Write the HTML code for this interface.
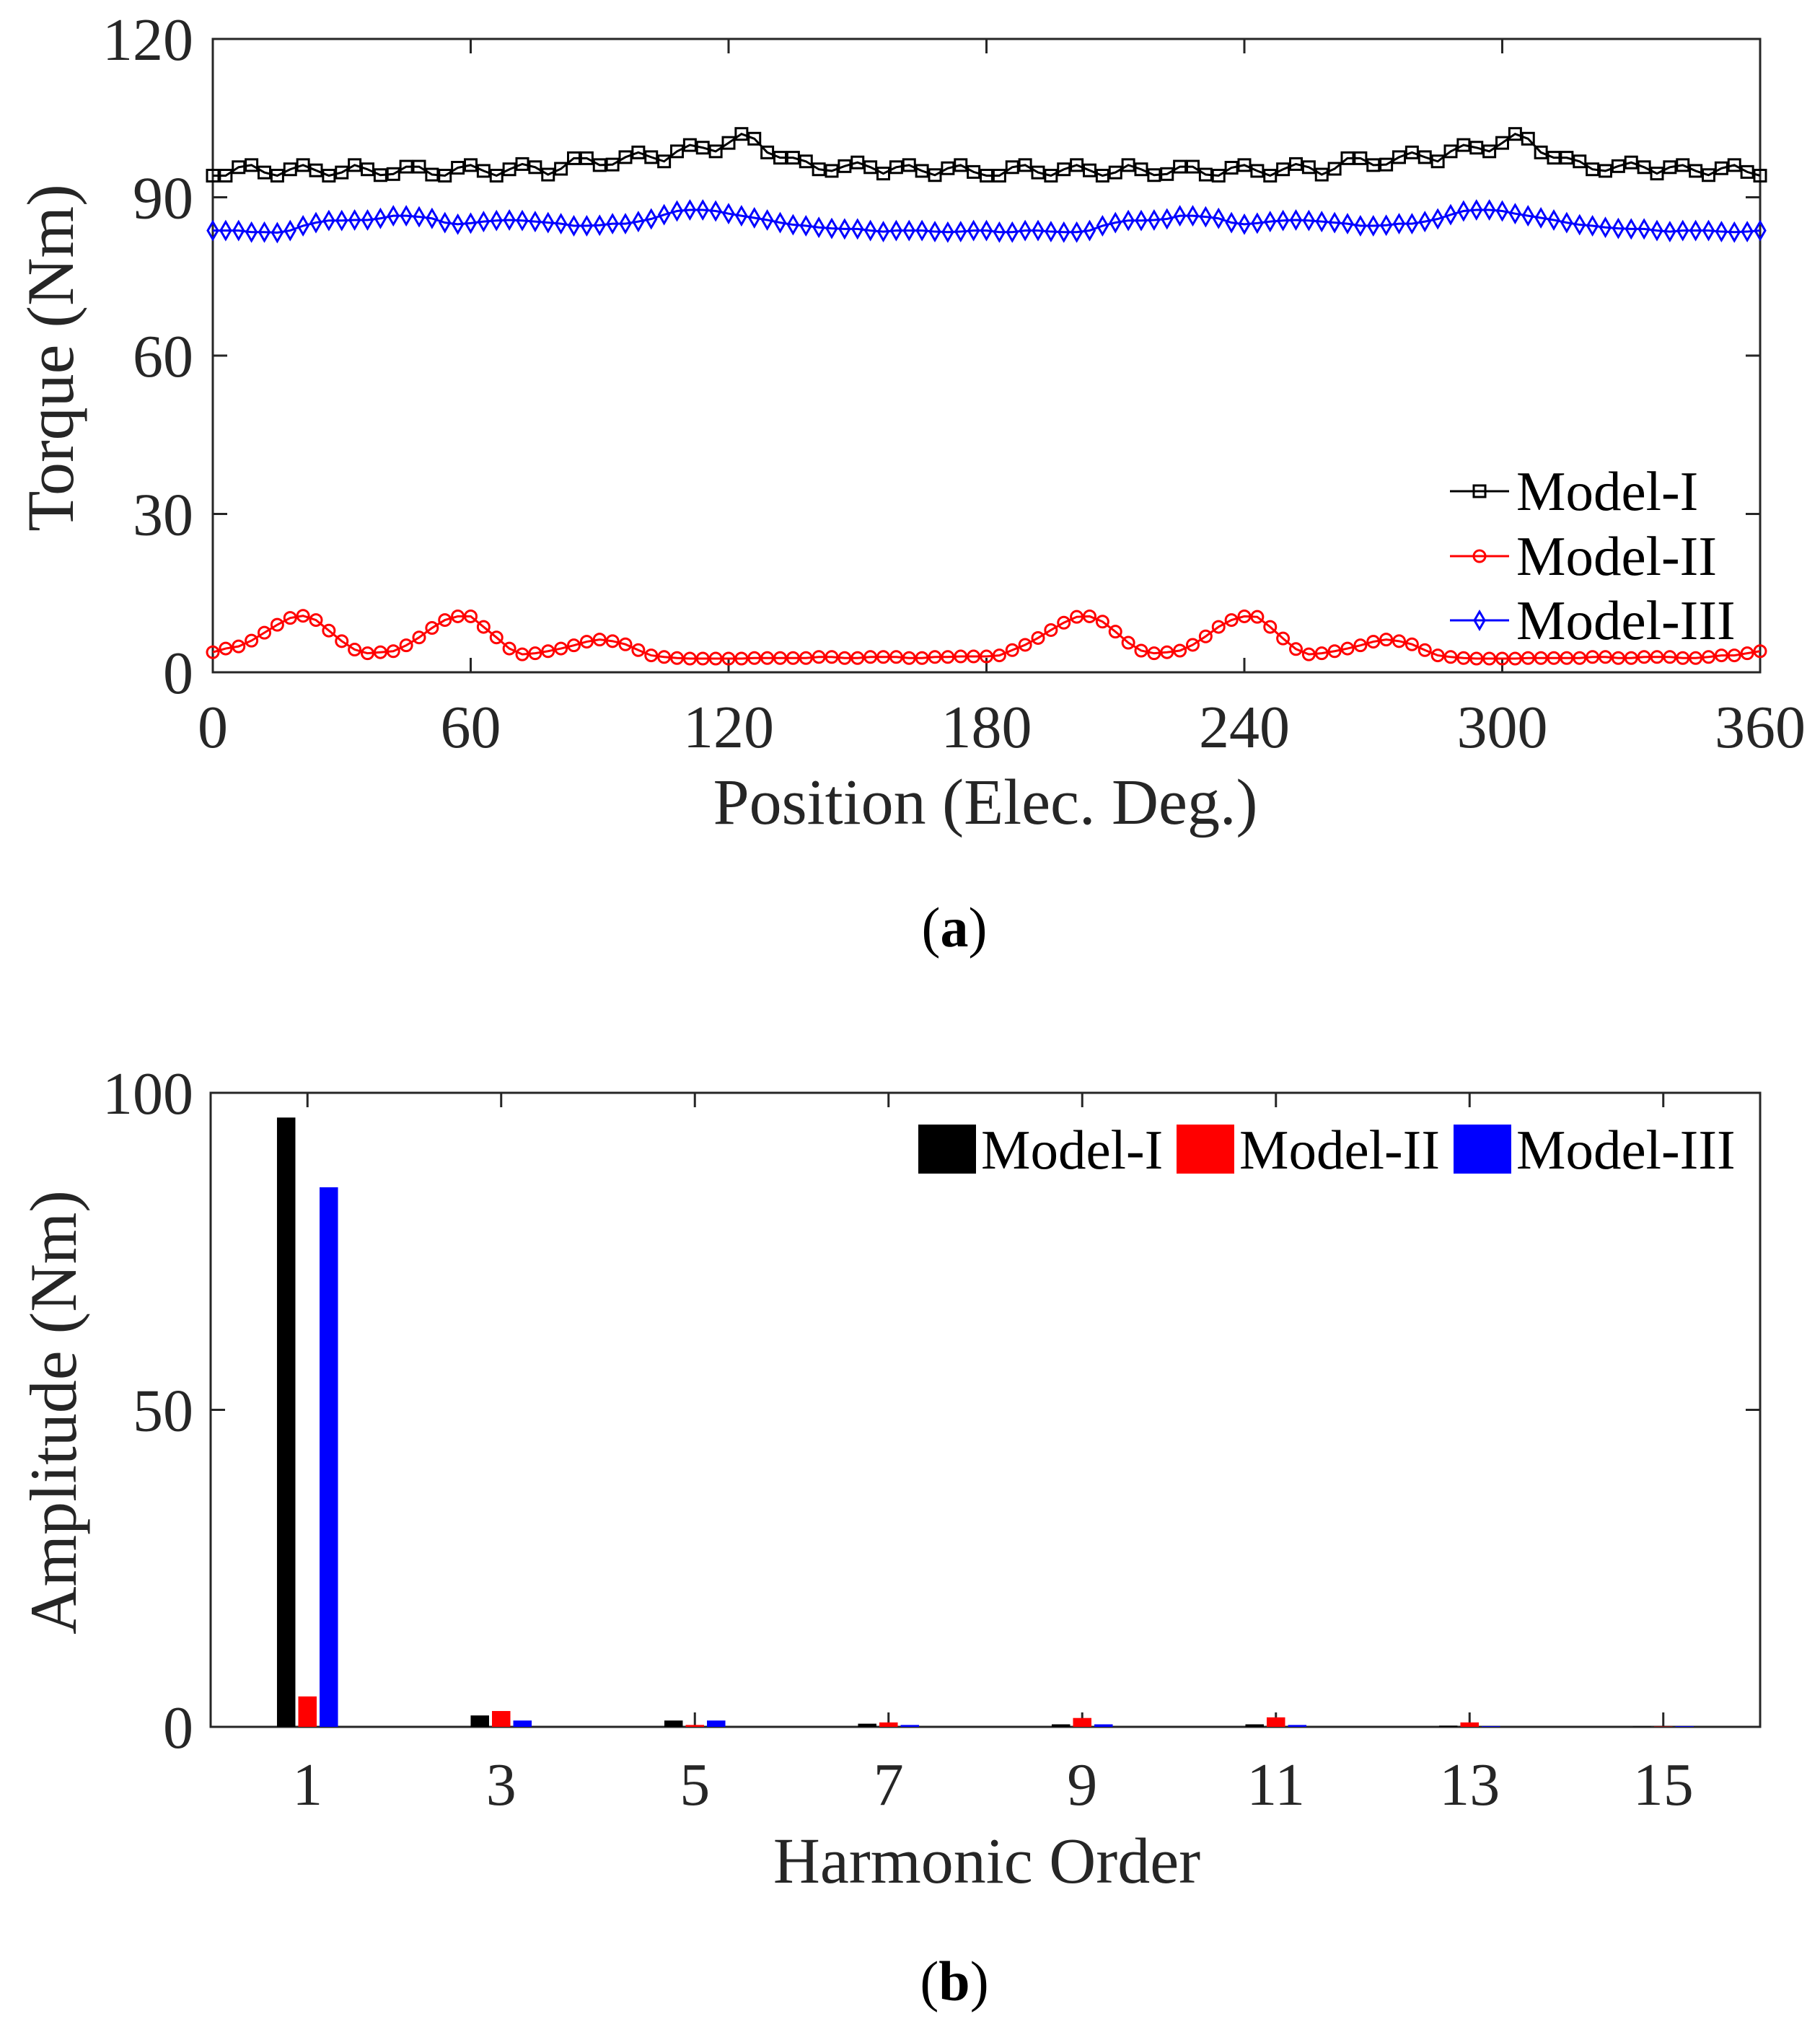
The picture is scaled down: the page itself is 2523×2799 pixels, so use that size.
<!DOCTYPE html>
<html><head><meta charset="utf-8"><style>
html,body{margin:0;padding:0;background:#fff;}
svg{display:block;font-family:"Liberation Serif",serif;}
</style></head><body>
<svg id="fig" width="2523" height="2799" viewBox="0 0 2523 2799" xmlns="http://www.w3.org/2000/svg">
<rect x="0" y="0" width="2523" height="2799" fill="#fff"/>
<g id="chartA"></g>
<g id="chartB"></g>
<text x="80" y="496" font-size="92" fill="#262626" text-anchor="middle" dominant-baseline="middle" transform="rotate(-90 80 496)">Torque (Nm)</text>
<text x="1366" y="1142" font-size="90" fill="#262626" text-anchor="middle">Position (Elec. Deg.)</text>
<text x="1323" y="1312" font-size="78" fill="#000" text-anchor="middle">(<tspan font-weight="bold">a</tspan>)</text>
<text x="84" y="1958" font-size="92" fill="#262626" text-anchor="middle" dominant-baseline="middle" transform="rotate(-90 84 1958)">Amplitude (Nm)</text>
<text x="1368" y="2610" font-size="90" fill="#262626" text-anchor="middle">Harmonic Order</text>
<text x="1323" y="2773" font-size="78" fill="#000" text-anchor="middle">(<tspan font-weight="bold">b</tspan>)</text>
</svg>
<script>
// ---- Chart (a) data ----
const posStep = 3;
const xTicksA = [0, 60, 120, 180, 240, 300, 360];
const yTicksA = [0, 30, 60, 90, 120];
const model1 = [94.1,94.1,95.7,96.1,94.7,94.1,95.3,96.1,95.1,94.1,94.7,96.1,95.3,94.2,94.4,95.8,95.8,94.3,94.1,95.6,96.1,95.0,94.1,95.3,96.3,95.7,94.3,95.4,97.4,97.4,96.1,96.2,97.6,98.5,97.6,96.8,98.7,99.9,99.4,98.7,100.3,102.0,101.1,98.5,97.5,97.5,96.8,95.3,95.0,95.9,96.6,95.7,94.5,95.7,96.1,95.0,94.2,95.5,96.1,94.8,94.1,
94.1,95.7,96.1,94.7,94.1,95.3,96.1,95.1,94.1,94.7,96.1,95.3,94.2,94.4,95.8,95.8,94.3,94.1,95.6,96.1,95.0,94.1,95.3,96.3,95.7,94.3,95.4,97.4,97.4,96.1,96.2,97.6,98.5,97.6,96.8,98.7,99.9,99.4,98.7,100.3,102.0,101.1,98.5,97.5,97.5,96.8,95.3,95.0,95.9,96.6,95.7,94.5,95.7,96.1,95.0,94.2,95.5,96.1,94.8,94.1];
const model2 = [3.8,4.5,4.9,6.0,7.5,9.0,10.3,10.7,9.9,7.9,5.9,4.3,3.6,3.8,4.0,5.1,6.6,8.4,9.9,10.6,10.6,8.6,6.6,4.5,3.4,3.6,4.0,4.5,5.1,5.8,6.2,5.9,5.3,4.2,3.2,2.9,2.7,2.6,2.6,2.6,2.6,2.6,2.7,2.7,2.7,2.7,2.7,2.9,2.9,2.7,2.7,2.9,2.9,2.9,2.7,2.7,2.9,2.9,3.0,3.0,3.0,
3.2,4.2,5.2,6.5,8.0,9.4,10.5,10.6,9.6,7.7,5.6,4.1,3.6,3.8,4.1,5.2,6.8,8.6,9.9,10.6,10.5,8.6,6.4,4.4,3.4,3.6,4.0,4.5,5.1,5.8,6.2,5.9,5.3,4.2,3.2,2.9,2.7,2.6,2.6,2.6,2.6,2.7,2.7,2.7,2.7,2.7,2.9,2.9,2.7,2.7,2.9,2.9,2.9,2.7,2.7,2.9,3.2,3.2,3.6,4.0];
const model3 = [83.7,83.7,83.7,83.4,83.4,83.3,83.7,84.6,85.2,85.6,85.6,85.7,85.7,86.0,86.5,86.5,86.3,86.0,85.2,84.9,85.1,85.4,85.6,85.7,85.6,85.4,85.2,85.0,84.6,84.6,84.7,85.0,85.0,85.4,85.9,86.7,87.4,87.6,87.6,87.4,86.9,86.5,86.1,85.7,85.2,84.8,84.6,84.3,84.1,84.0,84.0,83.7,83.5,83.7,83.7,83.7,83.5,83.4,83.5,83.7,83.7,
83.4,83.4,83.7,83.7,83.5,83.4,83.4,83.7,84.6,85.2,85.6,85.6,85.7,85.9,86.5,86.5,86.3,86.0,85.2,84.9,85.1,85.4,85.6,85.7,85.6,85.4,85.2,85.0,84.6,84.6,84.7,85.0,85.0,85.4,85.9,86.7,87.4,87.6,87.6,87.4,86.9,86.5,86.1,85.7,85.2,84.8,84.6,84.3,84.1,84.0,84.0,83.7,83.5,83.7,83.7,83.7,83.5,83.4,83.5,83.7];
// ---- Chart (b) data ----
const harmonicOrders = [1,2,3,4,5,6,7,8,9,10,11,12,13,14,15];
const xTicksB = [1,3,5,7,9,11,13,15];
const yTicksB = [0,50,100];
const amp1 = [96.1,0,1.8,0,1.0,0,0.5,0,0.4,0,0.4,0,0.2,0,0.05];
const amp2 = [4.8,0,2.5,0,0.3,0,0.7,0,1.4,0,1.5,0,0.7,0,0.05];
const amp3 = [85.1,0,1.0,0,1.0,0,0.3,0,0.4,0,0.3,0,0.1,0,0.1];

const NS = "http://www.w3.org/2000/svg";
function mk(parent, tag, attrs){ const e=document.createElementNS(NS,tag); for(const k in attrs) e.setAttribute(k,attrs[k]); parent.appendChild(e); return e; }
const AX = "#262626";

// ===== Chart A =====
const A = {l:295,r:2440,t:54,b:932, xmin:0,xmax:360,ymin:0,ymax:120};
const xA = v => A.l + (v-A.xmin)/(A.xmax-A.xmin)*(A.r-A.l);
const yA = v => A.b - (v-A.ymin)/(A.ymax-A.ymin)*(A.b-A.t);
const gA = document.getElementById('chartA');
let frame = mk(gA,'rect',{x:A.l,y:A.t,width:A.r-A.l,height:A.b-A.t,fill:'none',stroke:AX,'stroke-width':3});


xTicksA.forEach(v=>{
  const x=xA(v);
  let t1=mk(gA,'line',{x1:x,y1:A.b,x2:x,y2:A.b-20,stroke:AX,'stroke-width':3});
  
  
  let t2=mk(gA,'line',{x1:x,y1:A.t,x2:x,y2:A.t+20,stroke:AX,'stroke-width':3});
  
  
  let lb=mk(gA,'text',{x:x,y:1036,'font-size':84,fill:AX,'text-anchor':'middle'}); lb.textContent=v;
  
  
});
yTicksA.forEach(v=>{
  const y=yA(v);
  let t1=mk(gA,'line',{x1:A.l,y1:y,x2:A.l+20,y2:y,stroke:AX,'stroke-width':3});
  
  
  let t2=mk(gA,'line',{x1:A.r,y1:y,x2:A.r-20,y2:y,stroke:AX,'stroke-width':3});
  
  
  let lb=mk(gA,'text',{x:268,y:y+29,'font-size':84,fill:AX,'text-anchor':'end'}); lb.textContent=v;
  
  
});
function marker(g, kind, x, y, color){
  let e;
  if(kind==='square') e=mk(g,'rect',{x:x-8,y:y-8,width:16,height:16,fill:'none',stroke:color,'stroke-width':3});
  else if(kind==='circle') e=mk(g,'circle',{cx:x,cy:y,r:8,fill:'none',stroke:color,'stroke-width':3});
  else e=mk(g,'polygon',{points:`${x},${y-12} ${x+7},${y} ${x},${y+12} ${x-7},${y}`,fill:'none',stroke:color,'stroke-width':3});
  return e;
}
const seriesA = [
  {d:model1,c:'#000',m:'square',n:'model-i'},
  {d:model2,c:'#ff0000',m:'circle',n:'model-ii'},
  {d:model3,c:'#0000ff',m:'diamond',n:'model-iii'}
];
seriesA.forEach(s=>{
  const g=mk(gA,'g',{});
  
  
  const pts=s.d.map((v,i)=>xA(i*posStep)+','+yA(v)).join(' ');
  const pl=mk(g,'polyline',{points:pts,fill:'none',stroke:s.c,'stroke-width':3});
  
  
  s.d.forEach((v,i)=>{
    const mm=marker(g,s.m,xA(i*posStep),yA(v),s.c);
    
    
  });
});
// legend A
const legA=mk(gA,'g',{});


[[681,'Model-I'],[771,'Model-II'],[860,'Model-III']].forEach((r,i)=>{
  const s=seriesA[i];
  const g=mk(legA,'g',{});
  
  
  mk(g,'line',{x1:2010,y1:r[0],x2:2092,y2:r[0],stroke:s.c,'stroke-width':3});
  marker(g,s.m,2051,r[0],s.c);
  const t=mk(g,'text',{x:2102,y:r[0]+26,'font-size':77,fill:'#000'}); t.textContent=r[1];
});

// ===== Chart B =====
const B = {l:292,r:2440,t:1515,b:2394,xmin:0,xmax:16,ymin:0,ymax:100};
const xB = v => B.l + (v-B.xmin)/(B.xmax-B.xmin)*(B.r-B.l);
const yB = v => B.b - (v-B.ymin)/(B.ymax-B.ymin)*(B.b-B.t);
const gB=document.getElementById('chartB');
frame = mk(gB,'rect',{x:B.l,y:B.t,width:B.r-B.l,height:B.b-B.t,fill:'none',stroke:AX,'stroke-width':3});


xTicksB.forEach(v=>{
  const x=xB(v);
  let t1=mk(gB,'line',{x1:x,y1:B.b,x2:x,y2:B.b-20,stroke:AX,'stroke-width':3});
  
  
  let t2=mk(gB,'line',{x1:x,y1:B.t,x2:x,y2:B.t+20,stroke:AX,'stroke-width':3});
  
  
  let lb=mk(gB,'text',{x:x,y:2502,'font-size':84,fill:AX,'text-anchor':'middle'}); lb.textContent=v;
  
  
});
yTicksB.forEach(v=>{
  const y=yB(v);
  let t1=mk(gB,'line',{x1:B.l,y1:y,x2:B.l+20,y2:y,stroke:AX,'stroke-width':3});
  
  
  let t2=mk(gB,'line',{x1:B.r,y1:y,x2:B.r-20,y2:y,stroke:AX,'stroke-width':3});
  
  
  let lb=mk(gB,'text',{x:268,y:y+29,'font-size':84,fill:AX,'text-anchor':'end'}); lb.textContent=v;
  
  
});
const seriesB=[{d:amp1,c:'#000',o:-0.22,n:'model-i'},{d:amp2,c:'#ff0000',o:0,n:'model-ii'},{d:amp3,c:'#0000ff',o:0.22,n:'model-iii'}];
const barW=0.19;
seriesB.forEach(s=>{
  harmonicOrders.forEach((h,i)=>{
    const v=s.d[i]; if(v<=0) return;
    const x0=xB(h+s.o-barW/2), x1=xB(h+s.o+barW/2);
    const b=mk(gB,'rect',{x:x0,y:yB(v),width:x1-x0,height:yB(0)-yB(v),fill:s.c});
    
    
  });
});
const legB=mk(gB,'g',{});


[[1273,'Model-I'],[1631,'Model-II'],[2015,'Model-III']].forEach((r,i)=>{
  const s=seriesB[i];
  const g=mk(legB,'g',{});
  
  
  mk(g,'rect',{x:r[0],y:1559,width:80,height:68,fill:s.c});
  const t=mk(g,'text',{x:r[0]+87,y:1620,'font-size':77,fill:'#000'}); t.textContent=r[1];
});
</script>
</body></html>
